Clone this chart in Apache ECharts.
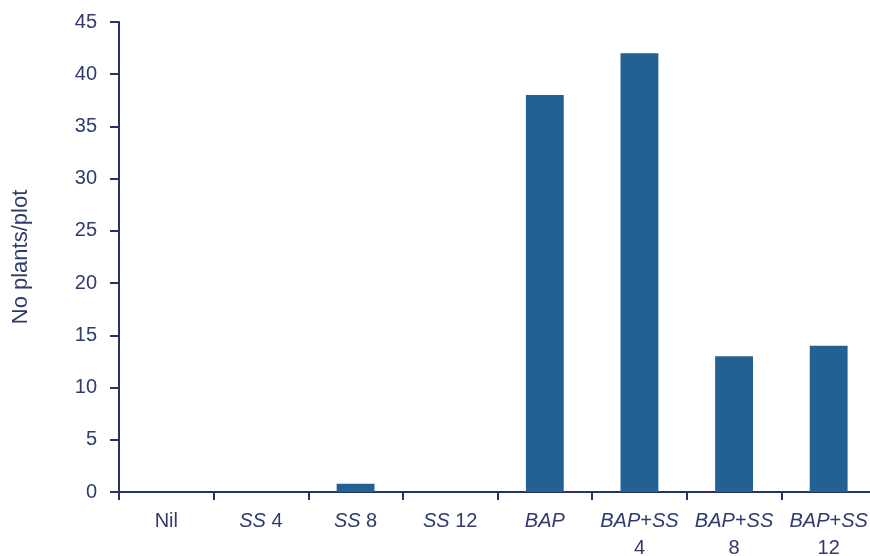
<!DOCTYPE html>
<html>
<head>
<meta charset="utf-8">
<script src="https://cdn.jsdelivr.net/npm/echarts@6/dist/echarts.min.js"></script>
<style>html,body{margin:0;padding:0;background:#fff}#c{width:870px;height:556px}</style>
</head>
<body>
<div id="c"></div>
<script>
var categories = ['Nil', '{i|SS} 4', '{i|SS} 8', '{i|SS} 12', '{i|BAP}', '{i|BAP}+{i|SS}\n4', '{i|BAP}+{i|SS}\n8', '{i|BAP}+{i|SS}\n12'];
var values = [0, 0, 0.8, 0, 38, 42, 13, 14];
var yTicks = { min: 0, max: 45, interval: 5 };
var yName = 'No plants/plot';

var axisColor = '#28316a';
var textColor = '#2f3b6c';
var font = 'Liberation Sans, Arial, sans-serif';

var chart = echarts.init(document.getElementById('c'));
chart.setOption({
  animation: false,
  grid: { left: 119, top: 22, width: 757, bottom: 64, containLabel: false, outerBoundsMode: 'none' },
  xAxis: {
    type: 'category',
    data: categories,
    axisLine: { lineStyle: { color: axisColor, width: 2 } },
    axisTick: { show: true, length: 8, lineStyle: { color: axisColor, width: 2 }, alignWithLabel: false },
    axisLabel: {
      color: textColor, fontSize: 20, fontFamily: font, margin: 16, lineHeight: 27, interval: 0,
      rich: { i: { fontStyle: 'italic', fontSize: 20, fontFamily: font, color: textColor, lineHeight: 27 } }
    },
    splitLine: { show: false }
  },
  yAxis: {
    type: 'value',
    min: yTicks.min, max: yTicks.max, interval: yTicks.interval,
    name: yName,
    nameLocation: 'middle',
    nameGap: 87,
    nameRotate: 90,
    nameTextStyle: { color: textColor, fontSize: 22, fontFamily: font },
    axisLine: { show: true, lineStyle: { color: axisColor, width: 2 } },
    axisTick: { show: true, length: 9, lineStyle: { color: axisColor, width: 2 } },
    axisLabel: { color: textColor, fontSize: 20, fontFamily: font, margin: 22 },
    splitLine: { show: false }
  },
  series: [{
    type: 'bar',
    data: values,
    barWidth: '40%',
    itemStyle: { color: '#236192' }
  }]
});
</script>
</body>
</html>
